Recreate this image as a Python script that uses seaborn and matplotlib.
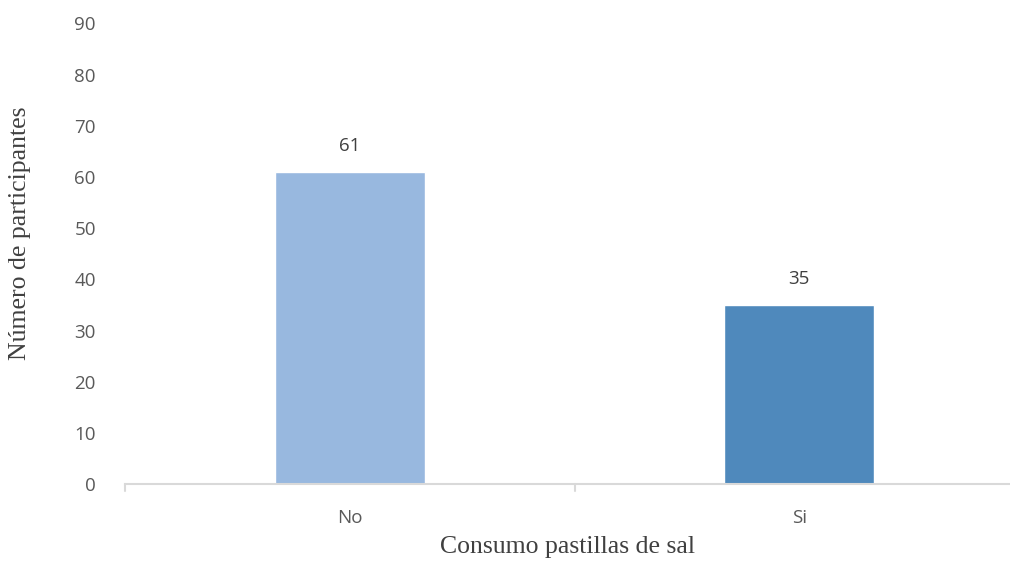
import matplotlib
matplotlib.use("Agg")
import matplotlib.pyplot as plt
import seaborn as sns
import pandas as pd

categories = ["No", "Si"]
participants = [61, 35]
bar_colors = ["#98B8DF", "#4F89BC"]

df = pd.DataFrame({"consumo": categories, "n": participants})

sns.set_theme(style="white")
plt.rcParams["font.family"] = ["Open Sans", "DejaVu Sans"]

fig = plt.figure(figsize=(10.10, 5.63), dpi=100)
# axes: x from 125px to ~1024px, y from 484px (0) to 23.5px (90)
ax = fig.add_axes([125 / 1010, (563 - 484) / 563, 899 / 1010, 460.5 / 563])

sns.barplot(data=df, x="consumo", y="n", hue="consumo", palette=bar_colors,
            width=0.333, legend=False, ax=ax, saturation=1)

ax.set_xlim(-0.5, 1.5)
ax.set_ylim(0, 90)
ax.set_yticks(range(0, 91, 10))
ax.tick_params(axis="y", length=0, labelsize=13.5, labelcolor="#595959", pad=21)
ax.tick_params(axis="x", length=0, labelsize=13.5, labelcolor="#595959", pad=18)

for side in ["left", "right", "top"]:
    ax.spines[side].set_visible(False)
ax.spines["bottom"].set_color("#D9D9D9")
ax.spines["bottom"].set_linewidth(1.5)

# category separator ticks below the baseline
for xb in [-0.5, 0.5, 1.5]:
    ax.plot([xb, xb], [0, -1.3], color="#D9D9D9", lw=1.5, clip_on=False)

for cont in ax.containers:
    ax.bar_label(cont, labels=[f"{int(v)}" for v in cont.datavalues],
                 padding=12, fontsize=13.5, color="#404040")

ax.set_xlabel("Consumo pastillas de sal", family="Liberation Serif",
              fontsize=18.5, color="#404040")
ax.set_ylabel("Número de participantes", family="Liberation Serif",
              fontsize=18.5, color="#404040")
ax.xaxis.set_label_coords((568 - 125) / 899, -(536 - 484) / 460.5)
ax.yaxis.set_label_coords(-(125 - 31) / 899, (484 - 233) / 460.5)

fig.savefig("out.png", dpi=100)
